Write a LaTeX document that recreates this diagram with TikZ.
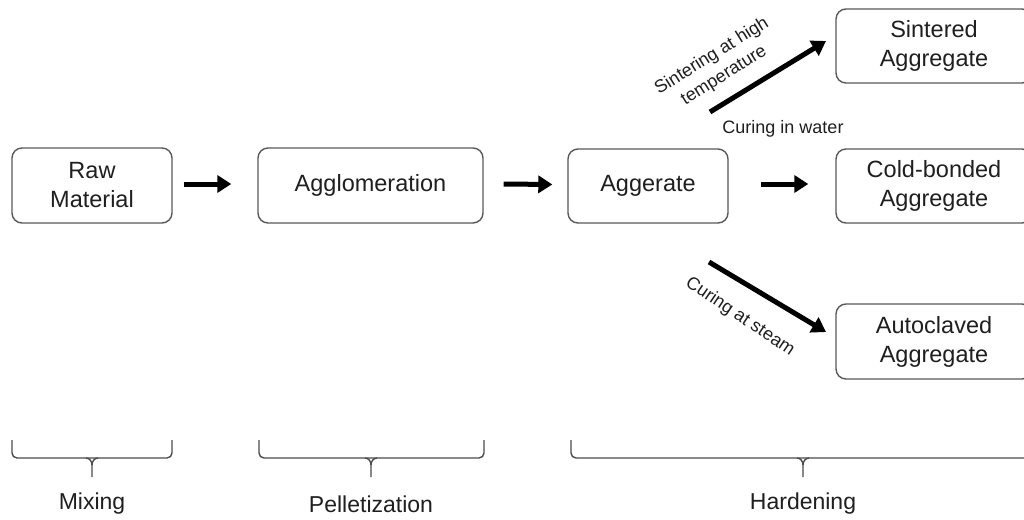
\documentclass[tikz,border=0pt]{standalone}
\usepackage{fontspec}
\setmainfont{Liberation Sans}
\usetikzlibrary{arrows.meta}
\begin{document}
\begin{tikzpicture}[x=1pt,y=-1pt,
  box/.style={draw=black!65, line width=1.4pt, rounded corners=10pt, align=center,
    inner sep=0pt, text=black!88, font=\fontsize{23.5}{29}\selectfont},
  flow/.style={line width=5pt, -{Triangle[length=14pt,width=17pt]}},
  lbl/.style={text=black!88, font=\fontsize{18}{23}\selectfont, align=center, inner sep=0pt},
  phase/.style={text=black!88, font=\fontsize{23}{28}\selectfont, inner sep=0pt},
  brace/.style={draw=black!70, line width=1.4pt, rounded corners=5pt},
  tip/.style={draw=black!70, line width=1.4pt}
]
\useasboundingbox (0,0) rectangle (1024,519);
\clip (0,0) rectangle (1024,519);
\fill[white] (0,0) rectangle (1024,519);

\node[box, minimum width=160pt, minimum height=75pt] (raw) at (92,185.5) {Raw\\Material};
\node[box, minimum width=225pt, minimum height=75pt] (agg) at (370.5,185.5) {Agglomeration};
\node[box, minimum width=160pt, minimum height=74pt] (ag) at (648,186) {Aggerate};
\node[box, minimum width=196pt, minimum height=74pt] (sin) at (934,46) {Sintered\\Aggregate};
\node[box, minimum width=196pt, minimum height=74pt] (cold) at (934,186) {Cold-bonded\\Aggregate};
\node[box, minimum width=196pt, minimum height=75pt] (auto) at (934,341.5) {Autoclaved\\Aggregate};

\draw[flow] ([xshift=11pt,yshift=1.5pt]raw.east) -- ([xshift=-26pt,yshift=1.5pt]agg.west);
\draw[flow] ([xshift=20pt,yshift=1.5pt]agg.east) -- ([xshift=-15pt,yshift=1.5pt]ag.west);
\draw[flow] ([xshift=32pt,yshift=2pt]ag.east) -- ([xshift=-27pt,yshift=2pt]cold.west);

\coordinate (s1) at (710,112);
\coordinate (s2) at (826,41);
\coordinate (t1) at (709,262);
\coordinate (t2) at (826,332);
\draw[flow] (s1) -- (s2);
\draw[flow] (t1) -- (t2);

\node[lbl, rotate=32] (lsin) at (718,66) {Sintering at high\\temperature};
\node[lbl] (lwat) at (783,129) {Curing in water};
\node[lbl, rotate=-34] (lst) at (740,317) {Curing at steam};

% braces
\draw[brace] (12,440) -- (12,458) -- (172,458) -- (172,440);
\draw[brace] (259,440) -- (259,458) -- (484,458) -- (484,440);
\draw[brace] (571,440) -- (571,458) -- (1035,458) -- (1035,440);
\draw[tip] (86,458) to[out=0,in=90] (92,465) -- (92,477);
\draw[tip] (98,458) to[out=180,in=90] (92,465);
\draw[tip] (365,458) to[out=0,in=90] (371,465) -- (371,477);
\draw[tip] (377,458) to[out=180,in=90] (371,465);
\draw[tip] (797,458) to[out=0,in=90] (803,465) -- (803,477);
\draw[tip] (809,458) to[out=180,in=90] (803,465);

\node[phase] (mix) at (92,504) {Mixing};
\node[phase] (pel) at (371,504) {Pelletization};
\node[phase] (har) at (803,504) {Hardening};
\end{tikzpicture}
\end{document}
